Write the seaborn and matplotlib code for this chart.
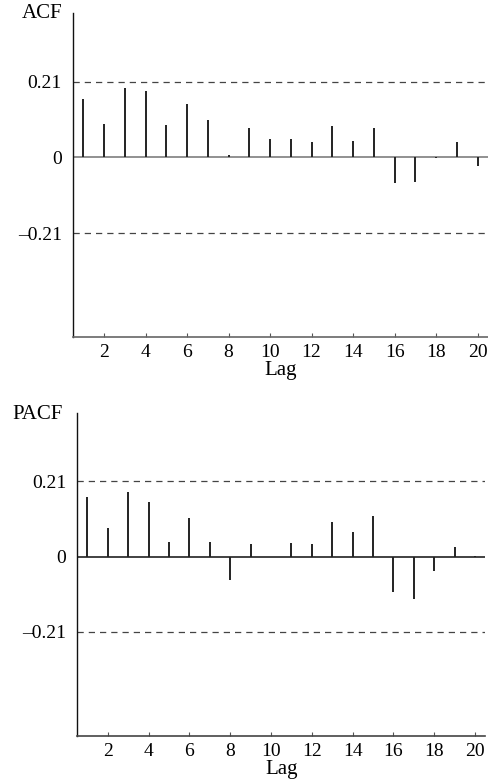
import numpy as np
import pandas as pd
import matplotlib
matplotlib.use("Agg")
import matplotlib.pyplot as plt
import seaborn as sns

lags = list(range(1, 21))
acf_vals = [0.161, 0.092, 0.192, 0.185, 0.089, 0.147, 0.104, 0.008, 0.081, 0.050,
            0.050, 0.043, 0.087, 0.046, 0.081, -0.070, -0.067, -0.002, 0.043, -0.024]
pacf_vals = [0.166, 0.081, 0.180, 0.152, 0.040, 0.107, 0.042, -0.065, 0.034, -0.002,
             0.037, 0.034, 0.096, 0.070, 0.113, -0.098, -0.118, -0.041, 0.028, 0.003]
conf = 0.21
xticks = [2, 4, 6, 8, 10, 12, 14, 16, 18, 20]
ytick_labels = ["\u20130.21", "0", "0.21"]

sns.set_style("ticks")
plt.rcParams["font.family"] = ["Liberation Serif", "DejaVu Serif"]
plt.rcParams["font.size"] = 14
plt.rcParams["text.color"] = "black"
plt.rcParams["xtick.labelcolor"] = "black"
plt.rcParams["ytick.labelcolor"] = "black"
plt.rcParams["axes.labelcolor"] = "black"

fig = plt.figure(figsize=(4.89, 7.83), dpi=100)
ax1 = fig.add_axes([0.149, 0.569, 0.849, 0.414])
ax2 = fig.add_axes([0.158, 0.0604, 0.834, 0.4116])

def draw(ax, vals, zero_color, spine_color):
    df = pd.DataFrame({"lag": lags, "val": vals})
    ax.axhline(0, color=zero_color, lw=1.3, zorder=1)
    ax.vlines(df["lag"], 0, df["val"], color="#222222", lw=1.4, zorder=2)
    sns.lineplot(x=[0.5, 20.5], y=[conf, conf], ax=ax, color="#444444",
                 lw=0.9, linestyle=(0, (5, 4)))
    sns.lineplot(x=[0.5, 20.5], y=[-conf, -conf], ax=ax, color="#444444",
                 lw=0.9, linestyle=(0, (5, 4)))
    ax.set_xlim(0.5, 20.5)
    ax.set_ylim(-0.5, 0.4)
    ax.set_xticks(xticks)
    ax.set_xticklabels([str(t) for t in xticks])
    ax.set_yticks([-conf, 0, conf])
    ax.set_yticklabels(ytick_labels)
    ax.tick_params(axis="x", direction="in", length=3, width=0.8, color="#555555",
                   labelsize=14, pad=5)
    ax.tick_params(axis="y", length=0, labelsize=14, pad=8)
    for s in ["top", "right"]:
        ax.spines[s].set_visible(False)
    ax.spines["left"].set_color("#111111")
    ax.spines["left"].set_linewidth(1.0)
    ax.spines["bottom"].set_color(spine_color)
    ax.spines["bottom"].set_linewidth(1.2)
    ax.set_xlabel("Lag", fontsize=15, labelpad=0)
    ax.set_ylabel("")

draw(ax1, acf_vals, "#888888", "#666666")
draw(ax2, pacf_vals, "#333333", "#444444")

fig.text(42 / 489, 1 - 14 / 783, "ACF", ha="center", va="center", fontsize=15)
fig.text(38 / 489, 1 - 415 / 783, "PACF", ha="center", va="center", fontsize=15)

fig.savefig("out.png", dpi=100)
